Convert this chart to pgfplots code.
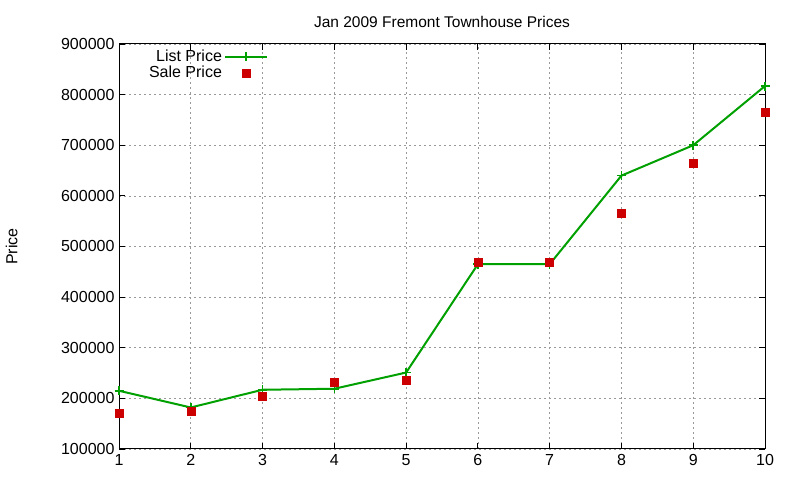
\documentclass[border=0pt]{standalone}
\usepackage{fontspec}
\setmainfont{Liberation Sans}
\usepackage{pgfplots}
\pgfplotsset{compat=1.18}
\definecolor{listgreen}{RGB}{0,160,0}
\definecolor{salered}{RGB}{204,0,0}
\pgfplotsset{
  listlegend/.style={legend image code/.code={\draw[##1, mark repeat=2, mark phase=2] plot coordinates {(3bp,0bp) (24bp,0bp) (45bp,0bp)};}},
  salelegend/.style={legend image code/.code={\path (3bp,0bp) (45bp,0bp); \draw[##1, only marks] plot coordinates {(24bp,0bp)};}},
}
\begin{document}
\begin{tikzpicture}[x=1bp,y=1bp]
\useasboundingbox (0,0) rectangle (800,480);
\begin{axis}[
  at={(119bp,31bp)}, anchor=south west,
  scale only axis, width=646bp, height=405bp,
  xmin=1, xmax=10, ymin=100000, ymax=900000,
  xtick={1,...,10},
  ytick={100000,200000,...,900000},
  scaled y ticks=false,
  /pgf/number format/assume math mode=true,
  yticklabel={\pgfmathprintnumber[fixed,1000 sep={}]{\tick}},
  ticklabel style={font=\fontsize{16bp}{18bp}\selectfont},
  xticklabel style={yshift=-2bp},
  yticklabel style={xshift=-1bp},
  major tick length=6bp,
  tick style={black, line width=0.8bp},
  axis line style={line width=1bp},
  grid=major,
  major grid style={gray!80, line width=0.7bp, dash pattern=on 2bp off 3bp},
  title={Jan 2009 Fremont Townhouse Prices},
  title style={font=\fontsize{15.5bp}{17bp}\selectfont, at={(0.5,1)}, yshift=7bp},
  ylabel={Price},
  ylabel style={font=\fontsize{16bp}{18bp}\selectfont, at={(axis description cs:-0.166,0.5)}, anchor=center},
  legend plot pos=right,
  legend cell align=right,
  legend style={at={(0.234,0.995)}, anchor=north east, draw=none, fill=none,
    font=\fontsize{16bp}{16bp}\selectfont, row sep=-1bp, inner sep=2bp},
]
\addplot[listgreen, line width=2bp, mark=+, mark size=4.5bp, mark options={line width=1.5bp}, listlegend]
  coordinates {(1,215000) (2,182000) (3,217000) (4,219000) (5,251000)
               (6,465000) (7,465000) (8,640000) (9,700000) (10,817000)};
\addlegendentry{List Price}
\addplot[only marks, mark=square*, mark size=4bp, color=salered, salelegend]
  coordinates {(1,170000) (2,174000) (3,205000) (4,231000) (5,235000)
               (6,468000) (7,468000) (8,565000) (9,664000) (10,766000)};
\addlegendentry{Sale Price}
\end{axis}
\end{tikzpicture}
\end{document}
